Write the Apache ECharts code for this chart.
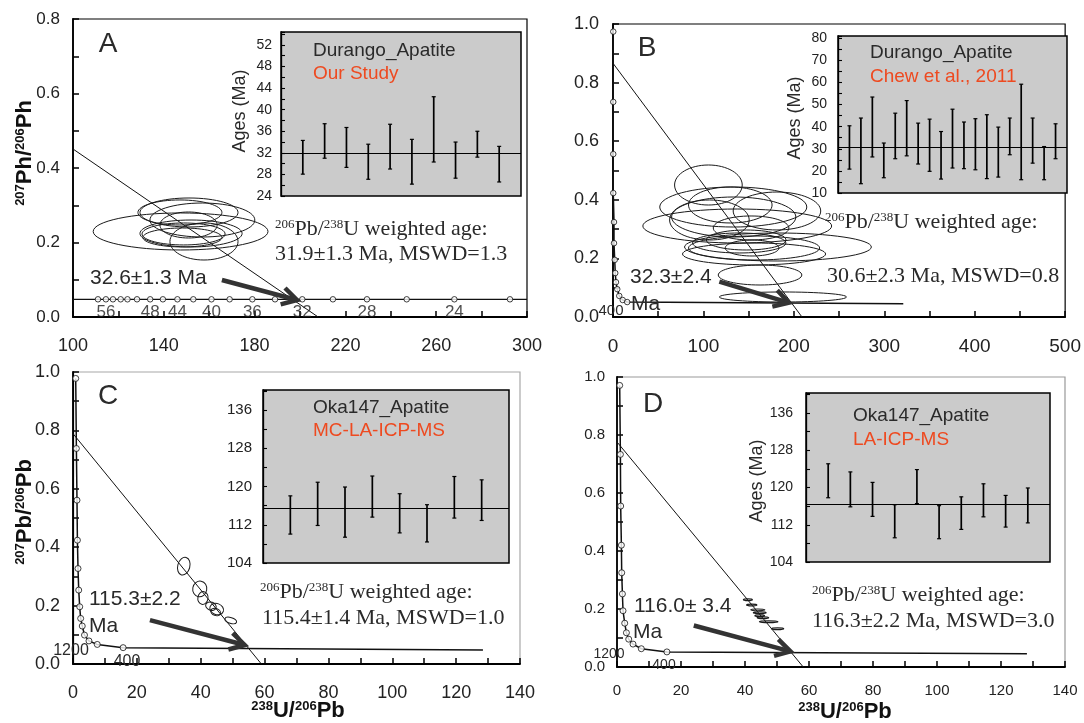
<!DOCTYPE html>
<html><head><meta charset="utf-8">
<script src="https://cdn.jsdelivr.net/npm/echarts@6/dist/echarts.min.js"></script>
<style>html,body{margin:0;padding:0;background:#fff}#c{width:1084px;height:723px}</style>
</head><body><div id="c"></div>
<script>
// ---------------- DATA ----------------
// Panel A (Durango, our study)
const ellipsesA = [[147.4,0.2296,38.5,0.0497],[151.1,0.2806,21.6,0.0389],[147.1,0.2806,18.5,0.0336],[157.0,0.2604,23.1,0.0456],[152.0,0.2242,22.5,0.0362],[148.7,0.2229,18.3,0.0295],[148.2,0.2135,17.4,0.0255],[157.7,0.2027,15.0,0.0497],[150.9,0.2470,12.6,0.0349]];
const discordiaA = [[100,0.451],[208,0]];
const concordiaLineA = [[100,0.0475],[300,0.0475]];
const concordiaMarkersA = [[111,0.0475],[114.5,0.0475],[117.6,0.0475],[121,0.0475],[124,0.0475],[128.2,0.0475],[134,0.0475],[139.6,0.0475],[146,0.0475],[153,0.0475],[161,0.0475],[169,0.0475],[179,0.0475],[189,0.0475],[201,0.0475],[214.5,0.0475],[229.5,0.0475],[247,0.0475],[268,0.0475],[292.5,0.0475]];
const concordiaAgeLabelsA = [[114.5,0.0475,'56'],[134,0.0475,'48'],[146,0.0475,'44'],[161,0.0475,'40'],[179,0.0475,'36'],[201,0.0475,'32'],[229.5,0.0475,'28'],[268,0.0475,'24']];
const arrowA = [[165.6,0.0993,198.7,0.0456]];
const agesA = [[28.05,34.3],[31.0,37.4],[29.3,36.7],[27.1,33.6],[29.0,37.3],[26.2,34.5],[30.3,42.4],[27.3,34.0],[31.2,36.0],[26.6,33.2]];
const meanA = 31.9;

// Panel B (Durango, Chew et al. 2011)
const ellipsesB = [[105.5,0.4505,37.4,0.0683],[133.0,0.3754,81.3,0.0683],[137.4,0.3106,104.4,0.058],[182.4,0.2389,103.3,0.0478],[162.6,0.1433,46.2,0.0341],[187.9,0.0683,70.3,0.0171],[153.8,0.2355,29.7,0.0273],[106.6,0.3311,44,0.0683],[129.7,0.3823,46.2,0.0614],[152.7,0.3038,41.8,0.041],[156.0,0.2355,72.5,0.041],[147.3,0.2628,44,0.0341],[181.3,0.3618,48.4,0.0648],[156.0,0.215,79.1,0.0375],[133.5,0.3413,68.7,0.0683],[139.6,0.2526,51.6,0.0341]];
const discordiaB = [[0,0.866],[209,0]];
const concordiaMarkersB = [[0.3,0.974],[0.3,0.734],[0.3,0.556],[0.3,0.423],[1.1,0.324],[1.1,0.252],[1.9,0.195],[2.5,0.150],[3.3,0.119],[4.7,0.095],[6.9,0.072],[10.7,0.058],[15.7,0.051]];
const concordiaEndB = [321,0.045];
const arrowB = [[117.6,0.1206,194.5,0.0488]];
const agesB = [[20.8,40.4],[14.2,43.9],[26.3,53.4],[16.9,32.6],[25.5,46.1],[26.8,51.8],[23.1,41.6],[19.8,43.4],[16.3,37.8],[21.3,47.9],[21.0,42.1],[20.5,43.6],[16.5,45.4],[17.2,39.8],[27.3,43.9],[16.0,59.2],[23.5,43.9],[16.0,31.0],[25.5,41.3]];
const meanB = 30.6;

// Panel C (Oka147, MC-LA-ICP-MS)  [cx, cy, rx, ry, tiltDeg]
const ellipsesC = [[34.7,0.335,1.9,0.031,-15],[39.7,0.257,2.2,0.027,-10],[40.7,0.226,1.6,0.022,-10],[43.2,0.198,1.7,0.014,-20],[45.0,0.188,2.2,0.019,-20],[44.7,0.178,1.6,0.012,-20],[49.4,0.149,1.9,0.010,-15]];
const discordiaC = [[0,0.789],[59,0]];
const concordiaMarkersC = [[0.85,0.978],[1.06,0.738],[1.25,0.561],[1.38,0.424],[1.57,0.327],[1.79,0.253],[2.1,0.196],[2.4,0.156],[2.9,0.130],[3.6,0.099],[5.0,0.079],[7.6,0.067],[15.7,0.056]];
const concordiaEndC = [128.4,0.048];
const arrowC = [[24.1,0.1505,53.8,0.065]];
const agesC = [[110.05,118.05],[111.85,120.9],[109.4,119.9],[113.6,122.2],[110.3,118.5],[108.4,116.2],[113.4,122.1],[112.9,121.4]];
const meanC = 115.4;

// Panel D (Oka147, LA-ICP-MS)
const ellipsesD = [[40.9,0.232,1.4,0.003],[42.1,0.214,1.6,0.003],[44.0,0.197,2.2,0.003],[44.6,0.187,2.0,0.003],[44.6,0.177,1.5,0.003],[45.6,0.170,1.8,0.003],[47.4,0.156,2.9,0.003],[50.2,0.132,1.9,0.003]];
const discordiaD = [[0,0.776],[58.2,0]];
const concordiaMarkersD = [[0.84,0.971],[1.06,0.733],[1.15,0.555],[1.37,0.420],[1.47,0.325],[1.69,0.252],[1.88,0.194],[2.41,0.151],[2.94,0.118],[3.66,0.096],[5.0,0.079],[7.6,0.063],[15.6,0.052]];
const concordiaEndD = [128.1,0.046];
const arrowD = [[24.0,0.143,54.2,0.0537]];
const agesD = [[117.8,125.1],[115.85,123.35],[113.8,121.1],[109.2,116.3],[116.55,123.85],[109.0,116.1],[111.0,118.0],[113.7,120.8],[111.5,118.3],[112.4,119.9]];
const meanD = 116.3;

// ---------------- STYLE / HELPERS ----------------
const SANS = '"Liberation Sans", Arial, sans-serif';
const SERIF = '"Liberation Serif", "Times New Roman", serif';
const TXT = '#2a2a2a';
const ORANGE = '#ee4a20';
const GRAYBOX = '#cbcbcb';

function grid(l,t,w,h,extra){
  return Object.assign({left:l, top:t, width:w, height:h, show:true, borderColor:'#000', borderWidth:1.2}, extra||{});
}
function mainAxis(gi, min, max, interval, size, margin, fmt){
  const a = {type:'value', gridIndex:gi, min, max, interval,
    axisLine:{show:true,onZero:false,lineStyle:{color:'#000',width:1.8}},
    axisTick:{show:true,inside:true,length:6,lineStyle:{color:'#000',width:1.5}},
    minorTick:{show:true,splitNumber:2,length:6,lineStyle:{color:'#000',width:1.5}},
    splitLine:{show:false},
    axisLabel:{fontSize:size,color:'#222',fontFamily:SANS,margin}};
  if (fmt) a.axisLabel.formatter = fmt;
  return a;
}
function insetY(gi, min, max, interval, size, margin){
  return {type:'value', gridIndex:gi, min, max, interval,
    axisLine:{show:true,onZero:false,lineStyle:{color:'#000',width:1.3}},
    axisTick:{show:true,inside:true,length:4,lineStyle:{color:'#000',width:1.1}},
    minorTick:{show:true,splitNumber:2,length:4,lineStyle:{color:'#000',width:1.1}},
    splitLine:{show:false},
    axisLabel:{fontSize:size,color:'#222',fontFamily:SANS,margin,showMaxLabel:false}};
}
function insetX(gi, n){ return {type:'value', gridIndex:gi, min:0, max:n+1, show:false}; }
const f1 = v => v.toFixed(1);

function ellipseSeries(ai, data, lw){
  return {type:'custom', xAxisIndex:ai, yAxisIndex:ai, data, encode:{x:0,y:1}, clip:true, silent:true, z:3,
    renderItem(params, api){
      const c = api.coord([api.value(0), api.value(1)]);
      const s = api.size([api.value(2), api.value(3)]);
      const t = api.value(4);
      const rot = (isFinite(t) ? t : 0) * Math.PI / 180;
      return {type:'ellipse', x:c[0], y:c[1], rotation:rot,
        shape:{cx:0, cy:0, rx:Math.abs(s[0]), ry:Math.max(0.6, Math.abs(s[1]))},
        style:{fill:'none', stroke:'#1a1a1a', lineWidth:lw||1}};
    }};
}
function lineSeries(ai, data, w){
  return {type:'line', xAxisIndex:ai, yAxisIndex:ai, data, symbol:'none', silent:true, lineStyle:{color:'#111', width:w||1}, z:2};
}
function markerSeries(ai, data, size){
  return {type:'scatter', xAxisIndex:ai, yAxisIndex:ai, data, symbol:'circle', symbolSize:size, silent:true,
    itemStyle:{color:'#fff', borderColor:'#111', borderWidth:1}, z:4};
}
function arrowSeries(ai, data){
  return {type:'custom', xAxisIndex:ai, yAxisIndex:ai, data, clip:false, silent:true, z:6,
    renderItem(params, api){
      const p1 = api.coord([api.value(0), api.value(1)]);
      const p2 = api.coord([api.value(2), api.value(3)]);
      const ang = Math.atan2(p2[1]-p1[1], p2[0]-p1[0]);
      const L = 17, a = Math.PI/6;
      const h1 = [p2[0]-L*Math.cos(ang-a), p2[1]-L*Math.sin(ang-a)];
      const h2 = [p2[0]-L*Math.cos(ang+a), p2[1]-L*Math.sin(ang+a)];
      const e = [p2[0]-3*Math.cos(ang), p2[1]-3*Math.sin(ang)];
      return {type:'group', children:[
        {type:'line', shape:{x1:p1[0],y1:p1[1],x2:e[0],y2:e[1]}, style:{stroke:'#333', lineWidth:4.5}},
        {type:'polyline', shape:{points:[h1,p2,h2]}, style:{stroke:'#333', lineWidth:4.5, fill:'none', lineJoin:'miter'}}
      ]};
    }};
}
function errorBarSeries(ai, ages, mean){
  return {type:'custom', xAxisIndex:ai, yAxisIndex:ai, data: ages.map((d,i)=>[i+1, d[0], d[1]]), encode:{x:0,y:[1,2]}, silent:true, z:5,
    renderItem(params, api){
      const top = api.coord([api.value(0), api.value(2)]);
      const bot = api.coord([api.value(0), api.value(1)]);
      const w = 2;
      return {type:'group', children:[
        {type:'line', shape:{x1:top[0],y1:top[1],x2:bot[0],y2:bot[1]}, style:{stroke:'#000', lineWidth:1.7}},
        {type:'line', shape:{x1:top[0]-w,y1:top[1],x2:top[0]+w,y2:top[1]}, style:{stroke:'#000', lineWidth:1.2}},
        {type:'line', shape:{x1:bot[0]-w,y1:bot[1],x2:bot[0]+w,y2:bot[1]}, style:{stroke:'#000', lineWidth:1.2}}
      ]};
    },
    markLine:{silent:true, symbol:'none', label:{show:false}, lineStyle:{color:'#000', width:1.1, type:'solid'}, data:[{yAxis:mean}]}};
}
function txt(x, y, text, o){
  o = o || {};
  const fam = o.serif ? SERIF : SANS;
  const st = {text, fontSize:o.size||19, fontFamily:fam, fontWeight:o.bold?'bold':'normal', fill:o.color||TXT, align:o.align||'left', verticalAlign:'middle'};
  if (o.sup) st.rich = {s:{fontSize:o.sup, fontFamily:fam, fontWeight:o.bold?'bold':'normal', fill:o.color||TXT, verticalAlign:'top'}};
  return {type:'text', x, y, rotation:o.rot||0, z:100, silent:true, style:st};
}

// ---------------- OPTION ----------------
const chart = echarts.init(document.getElementById('c'));
chart.setOption({
  animation:false,
  backgroundColor:'#fff',
  grid:[
    grid(73,19,454,298),
    grid(281,32,240,164,{backgroundColor:GRAYBOX, borderWidth:1.5}),
    grid(613,24,455,293),
    grid(838,36,229,157,{backgroundColor:GRAYBOX, borderWidth:1.5}),
    grid(73,372,447,292,{borderColor:'#a8a8a8'}),
    grid(263,390,246,173,{backgroundColor:GRAYBOX, borderWidth:1.5}),
    grid(617,377,448,290,{borderColor:'#999'}),
    grid(806,393,244,169,{backgroundColor:GRAYBOX, borderWidth:1.5})
  ],
  xAxis:[
    mainAxis(0,100,300,40,18,20), insetX(1, agesA.length),
    mainAxis(2,0,500,100,19,20), insetX(3, agesB.length),
    mainAxis(4,0,140,20,18,20), insetX(5, agesC.length),
    mainAxis(6,0,140,20,15,16), insetX(7, agesD.length)
  ],
  yAxis:[
    mainAxis(0,0,0.8,0.2,17,13,f1), insetY(1,24,54.4,4,14,9),
    mainAxis(2,0,1.0,0.2,18,14,f1), insetY(3,10,81,10,14,11),
    mainAxis(4,0,1.0,0.2,18,13,f1), insetY(5,104,140.2,8,15,11),
    mainAxis(6,0,1.0,0.2,15,12,f1), insetY(7,104,140.3,8,14,13),
    {type:'value', gridIndex:4, position:'right', min:0, max:1, axisLine:{show:true,lineStyle:{color:'#000',width:1.2}}, axisTick:{show:false}, axisLabel:{show:false}, splitLine:{show:false}}
  ],
  series:[
    // A
    ellipseSeries(0, ellipsesA, 1),
    lineSeries(0, discordiaA, 1),
    lineSeries(0, concordiaLineA, 1.2),
    markerSeries(0, concordiaMarkersA, 5.5),
    {type:'scatter', xAxisIndex:0, yAxisIndex:0, data:concordiaAgeLabelsA, symbolSize:0, silent:true, z:5,
      label:{show:true, position:'bottom', distance:5, fontSize:17, color:'#222', fontFamily:SANS, formatter:p=>p.value[2]}},
    arrowSeries(0, arrowA),
    errorBarSeries(1, agesA, meanA),
    // B
    ellipseSeries(2, ellipsesB, 1),
    lineSeries(2, discordiaB, 1),
    lineSeries(2, concordiaMarkersB.concat([concordiaEndB]), 1.5),
    markerSeries(2, concordiaMarkersB, 5.5),
    arrowSeries(2, arrowB),
    errorBarSeries(3, agesB, meanB),
    // C
    ellipseSeries(4, ellipsesC, 1),
    lineSeries(4, discordiaC, 1),
    lineSeries(4, concordiaMarkersC.concat([concordiaEndC]), 1.5),
    markerSeries(4, concordiaMarkersC, 6),
    arrowSeries(4, arrowC),
    errorBarSeries(5, agesC, meanC),
    // D
    ellipseSeries(6, ellipsesD, 1.2),
    lineSeries(6, discordiaD, 1),
    lineSeries(6, concordiaMarkersD.concat([concordiaEndD]), 1.5),
    markerSeries(6, concordiaMarkersD, 6),
    arrowSeries(6, arrowD),
    errorBarSeries(7, agesD, meanD)
  ],
  graphic:[
    // A
    txt(25,153,'{s|207}Ph/{s|206}Ph',{size:22,bold:true,sup:13,rot:Math.PI/2,align:'center',color:'#111'}),
    txt(108,44,'A',{size:28,align:'center'}),
    txt(240,111,'Ages (Ma)',{size:18,rot:Math.PI/2,align:'center'}),
    txt(313,51,'Durango_Apatite',{size:19}),
    txt(313,74,'Our Study',{size:19,color:ORANGE}),
    txt(275,229,'{s|206}Pb/{s|238}U weighted age:',{size:22,serif:true,sup:13}),
    txt(275,254,'31.9±1.3 Ma, MSWD=1.3',{size:22,serif:true}),
    txt(90,278,'32.6±1.3 Ma',{size:21}),
    // B
    txt(647,48,'B',{size:28,align:'center'}),
    txt(795,118,'Ages (Ma)',{size:18,rot:Math.PI/2,align:'center'}),
    txt(870,53,'Durango_Apatite',{size:19}),
    txt(870,77,'Chew et al., 2011',{size:19,color:ORANGE}),
    txt(825,222,'{s|206}Pb/{s|238}U weighted age:',{size:22,serif:true,sup:13}),
    txt(827,276,'30.6±2.3 Ma, MSWD=0.8',{size:22,serif:true}),
    txt(630,277,'32.3±2.4',{size:21}),
    txt(631,304,'Ma',{size:21}),
    txt(611,311,'400',{size:15,align:'center'}),
    // C
    txt(25,512,'{s|207}Pb/{s|206}Pb',{size:22,bold:true,sup:13,rot:Math.PI/2,align:'center',color:'#111'}),
    txt(108,396,'C',{size:28,align:'center'}),
    txt(313,408,'Oka147_Apatite',{size:19}),
    txt(313,431,'MC-LA-ICP-MS',{size:19,color:ORANGE}),
    txt(260,592,'{s|206}Pb/{s|238}U weighted age:',{size:22,serif:true,sup:13}),
    txt(262,618,'115.4±1.4 Ma, MSWD=1.0',{size:22,serif:true}),
    txt(89,599,'115.3±2.2',{size:21}),
    txt(89,626,'Ma',{size:21}),
    txt(71,651,'1200',{size:16,align:'center'}),
    txt(127,662,'400',{size:16,align:'center'}),
    txt(298,711,'{s|238}U/{s|206}Pb',{size:22,bold:true,sup:13,align:'center',color:'#111'}),
    // D
    txt(653,404,'D',{size:28,align:'center'}),
    txt(757,481,'Ages (Ma)',{size:18,rot:Math.PI/2,align:'center'}),
    txt(853,416,'Oka147_Apatite',{size:19}),
    txt(853,440,'LA-ICP-MS',{size:19,color:ORANGE}),
    txt(812,595,'{s|206}Pb/{s|238}U weighted age:',{size:22,serif:true,sup:13}),
    txt(812,621,'116.3±2.2 Ma, MSWD=3.0',{size:22,serif:true}),
    txt(634,606,'116.0± 3.4',{size:21}),
    txt(633,632,'Ma',{size:21}),
    txt(609,654,'1200',{size:14,align:'center'}),
    txt(664,665,'400',{size:14,align:'center'}),
    txt(845,712,'{s|238}U/{s|206}Pb',{size:22,bold:true,sup:13,align:'center',color:'#111'})
  ]
});
</script>
</body></html>
